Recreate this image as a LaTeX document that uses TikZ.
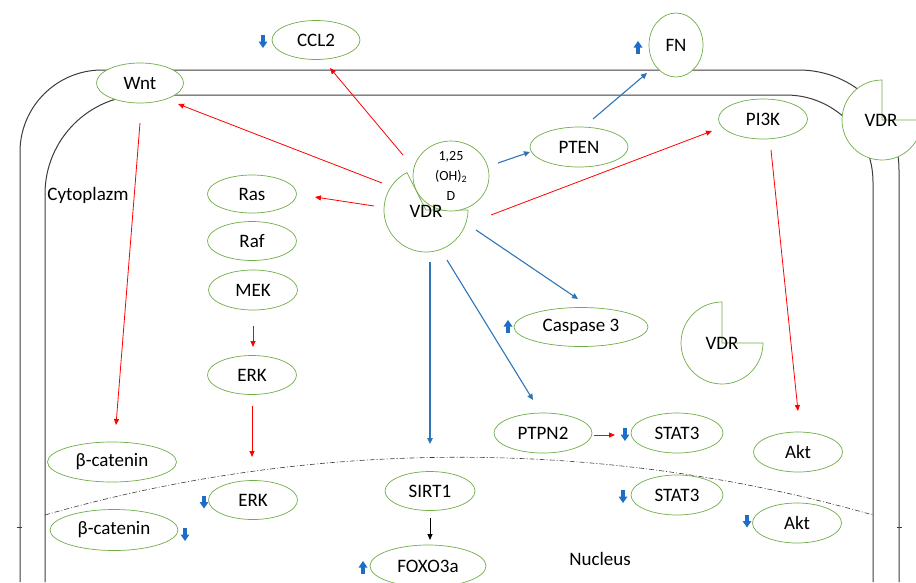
\documentclass[tikz,border=0pt]{standalone}
\usepackage{fontspec}
\setmainfont{Carlito}
\usetikzlibrary{shapes.geometric,arrows.meta,calc}
\definecolor{egreen}{RGB}{112,173,71}
\definecolor{ablue}{RGB}{46,117,182}
\definecolor{iblue}{RGB}{30,110,200}
\definecolor{mem}{RGB}{60,60,60}
\tikzset{
 indown/.pic={\fill[iblue] (-1.8,-6.5) rectangle (1.8,0.5); \fill[iblue] (-4.5,0) -- (4.5,0) -- (0,6.5) -- cycle;},
 inup/.pic={\fill[iblue] (-1.8,6.5) rectangle (1.8,-0.5); \fill[iblue] (-4.5,0) -- (4.5,0) -- (0,-6.5) -- cycle;},
}
\begin{document}
\begin{tikzpicture}[x=1pt,y=-1pt,
 ell/.style={ellipse, draw=egreen, line width=0.7pt, fill=white, inner sep=0pt, font=\fontsize{19}{22}\selectfont},
 txt/.style={font=\fontsize{19}{22}\selectfont, inner sep=0pt},
 redarr/.style={draw=red, line width=0.8pt, -{Triangle[length=6pt,width=5pt]}},
 bluearr/.style={draw=ablue, line width=1.1pt, -{Triangle[length=6pt,width=5.5pt]}},
 blkarr/.style={draw=black, line width=0.8pt, -{Triangle[length=6pt,width=5pt]}},
 memline/.style={draw=mem, line width=1pt},
 pie/.style={draw=egreen, line width=0.7pt, fill=white},
]
\useasboundingbox (0,0) rectangle (916,582);
% membranes
\draw[memline] (20,582) -- (20,152) .. controls (20,106.7) and (56.7,70) .. (102,70) -- (799,70) .. controls (854.2,70) and (899,114.8) .. (899,170) -- (899,582);
\draw[memline] (45,582) -- (45,194) .. controls (45,139.3) and (89.3,95) .. (144,95) -- (786,95) .. controls (834,95) and (873,134) .. (873,182) -- (873,582);
% nucleus boundary
\draw[mem, line width=0.6pt, dash pattern=on 5pt off 2pt on 1pt off 2pt] (45,515) .. controls (314,438) and (604,438) .. (873,515);
\draw[mem, line width=0.5pt] (17,527) -- (22,527);
\draw[mem, line width=0.5pt] (897,527) -- (902,527);
% VDR shapes
\draw[pie] (426,210) -- ++(-117:42) arc[start angle=-117, end angle=-360, radius=42] -- cycle;
\draw[pie] (722,343) -- ++(-90:41) arc[start angle=-90, end angle=-360, radius=41] -- cycle;
\draw[pie] (882,120) -- ++(-90:40) arc[start angle=-90, end angle=-360, radius=40] -- cycle;
\node[ellipse, draw=egreen, line width=0.7pt, fill=white, minimum width=76pt, minimum height=70pt, inner sep=0pt, align=center, font=\fontsize{14}{20}\selectfont] (lig) at (451,176) {1,25\\(OH)\textsubscript{2}\\D};
\node[txt] (vdr) at (426,211) {VDR};
\node[txt] (vdrc) at (722,343) {VDR};
\node[txt] (vdrm) at (881,120) {VDR};
% nodes
\node[ell, minimum width=88pt, minimum height=39pt] (ccl2) at (316,40) {CCL2};
\node[ell, minimum width=87pt, minimum height=40pt] (wnt) at (140,83) {Wnt};
\node[txt] (cyto) at (88,195) {Cytoplazm};
\node[ell, minimum width=89pt, minimum height=38pt] (ras) at (252,194) {Ras};
\node[ell, minimum width=89pt, minimum height=39pt] (raf) at (252,241) {Raf};
\node[ell, minimum width=89pt, minimum height=40pt] (mek) at (253,290) {MEK};
\node[ell, minimum width=89pt, minimum height=39pt] (erk1) at (252,375) {ERK};
\node[ell, minimum width=129pt, minimum height=40pt] (bcat1) at (112,462) {β-catenin};
\node[ell, minimum width=89pt, minimum height=39pt] (erk2) at (253,500) {ERK};
\node[ell, minimum width=128pt, minimum height=41pt] (bcat2) at (114,530) {β-catenin};
\node[ell, minimum width=90pt, minimum height=39pt] (sirt) at (430,491) {SIRT1};
\node[ell, minimum width=116pt, minimum height=42pt] (foxo) at (428,566) {FOXO3a};
\node[txt] (nucl) at (600,559) {Nucleus};
\node[ell, minimum width=98pt, minimum height=40pt] (pten) at (579,147) {PTEN};
\node[ell, minimum width=54pt, minimum height=64pt] (fn) at (676,45) {FN};
\node[ell, minimum width=89pt, minimum height=40pt] (pi3k) at (763,119) {PI3K};
\node[ell, minimum width=134pt, minimum height=39pt] (casp) at (581,327) {Caspase 3};
\node[ell, minimum width=98pt, minimum height=40pt] (ptpn) at (543,433) {PTPN2};
\node[ell, minimum width=92pt, minimum height=40pt] (stat1) at (677,433) {STAT3};
\node[ell, minimum width=89pt, minimum height=40pt] (akt1) at (798,452) {Akt};
\node[ell, minimum width=92pt, minimum height=40pt] (stat2) at (677,495) {STAT3};
\node[ell, minimum width=89pt, minimum height=40pt] (akt2) at (797,523) {Akt};
% red arrows
\draw[redarr] ($(vdr)+(-23,-56)$) -- ($(ccl2)+(14,28)$);
\draw[redarr] ($(vdr)+(-44,-28)$) -- ($(wnt)+(38,21)$);
\draw[redarr] ($(vdr)+(-52,-5)$) -- ($(ras)+(63,3)$);
\draw[redarr] ($(vdr)+(65,4)$) -- ($(pi3k)+(-51,12)$);
\draw[redarr] ($(wnt)+(0,40)$) -- ($(bcat1)+(4,-37)$);
\draw[redarr] ($(mek)+(0,36)$) -- ($(erk1)+(1,-28)$);
\draw[redarr] ($(erk1)+(0,31)$) -- ($(erk2)+(-1,-43)$);
\draw[redarr] ($(pi3k)+(8,31)$) -- ($(akt1)+(0,-41)$);
\draw[redarr] ($(ptpn)+(51,2)$) -- ($(stat1)+(-62,2)$);
% blue arrows
\draw[bluearr] ($(lig)+(47,-13)$) -- ($(pten)+(-49,5)$);
\draw[bluearr] ($(pten)+(14,-28)$) -- ($(fn)+(-29,28)$);
\draw[bluearr] ($(vdr)+(50,19)$) -- ($(casp)+(-3,-28)$);
\draw[bluearr] ($(vdr)+(21,49)$) -- ($(ptpn)+(-10,-33)$);
\draw[bluearr] ($(vdr)+(4,51)$) -- ($(sirt)+(0,-47)$);
% black arrow
\draw[blkarr] ($(sirt)+(0,27)$) -- ($(foxo)+(2,-26)$);
% up/down indicators
\pic at (263,41.5) {indown};
\pic at (638,47.5) {inup};
\pic at (508,326.5) {inup};
\pic at (625,434.5) {indown};
\pic at (623,496.5) {indown};
\pic at (747,521) {indown};
\pic at (204,502) {indown};
\pic at (185,534.5) {indown};
\pic at (363,567.5) {inup};
\end{tikzpicture}
\end{document}
